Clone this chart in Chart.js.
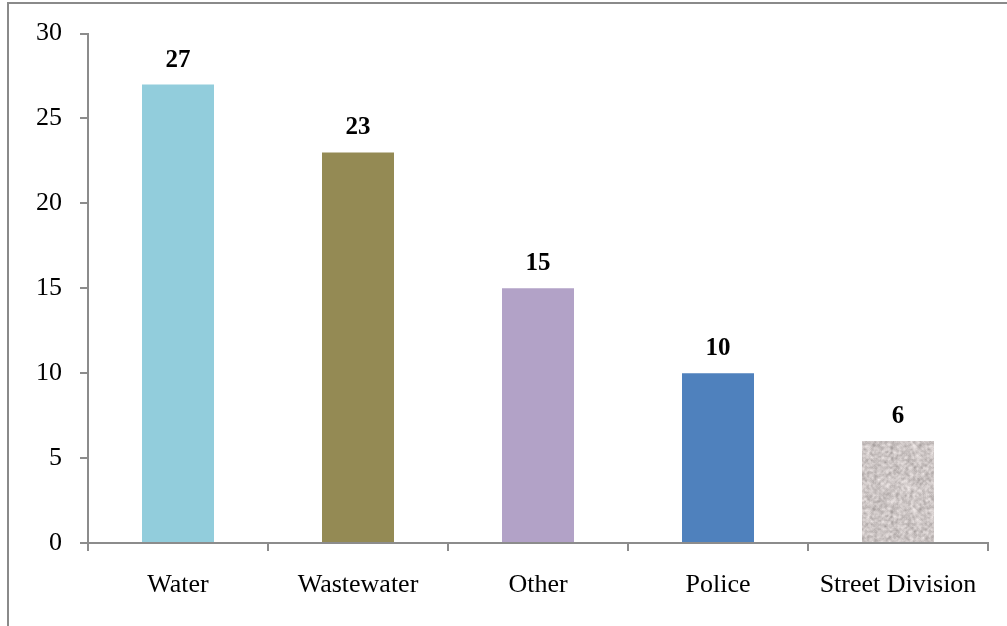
<!DOCTYPE html>
<html>
<head>
<meta charset="utf-8">
<script src="https://cdn.jsdelivr.net/npm/chart.js@4.4.1/dist/chart.umd.min.js"></script>
<style>
  html, body { margin: 0; padding: 0; background: #fff; }
  #wrap { width: 1007px; height: 626px; position: relative; }
</style>
</head>
<body>
<div id="wrap"><canvas id="dept-chart" width="1007" height="626"></canvas></div>
<script>
// Demandes par service
const departments = ["Water", "Wastewater", "Other", "Police", "Street Division"];
const counts = [27, 23, 15, 10, 6];
const yTicks = [0, 5, 10, 15, 20, 25, 30];

const SERIF = "'Liberation Serif', 'Times New Roman', serif";
const AXIS_GREY = "#8c8c8c";

// Texture granit pour la dernière barre (bruit déterministe)
function makeGranitePattern() {
  const size = 64;
  const c = document.createElement("canvas");
  c.width = size;
  c.height = size;
  const ctx = c.getContext("2d");
  const img = ctx.createImageData(size, size);
  let seed = 12345;
  function next() {
    seed = (seed * 1103515245 + 12345) & 0x7fffffff;
    return seed / 0x7fffffff;
  }
  // bruit grossier puis lissé pour imiter des taches
  const raw = new Float32Array(size * size);
  for (let i = 0; i < raw.length; i++) raw[i] = next();
  for (let y = 0; y < size; y++) {
    for (let x = 0; x < size; x++) {
      let s = 0;
      for (let dy = -1; dy <= 1; dy++) {
        for (let dx = -1; dx <= 1; dx++) {
          const xx = (x + dx + size) % size;
          const yy = (y + dy + size) % size;
          s += raw[yy * size + xx] * (dx === 0 && dy === 0 ? 2 : 1);
        }
      }
      const v = s / 10; // 0..1
      const k = (v - 0.5) * 110;
      const i = (y * size + x) * 4;
      img.data[i] = Math.max(0, Math.min(255, 204 + k));
      img.data[i + 1] = Math.max(0, Math.min(255, 197 + k));
      img.data[i + 2] = Math.max(0, Math.min(255, 196 + k));
      img.data[i + 3] = 255;
    }
  }
  ctx.putImageData(img, 0, 0);
  return document.getElementById("dept-chart").getContext("2d").createPattern(c, "repeat");
}

const barColors = ["#92cddc", "#948a54", "#b2a2c7", "#4f81bd", makeGranitePattern()];

// Cadre gris autour du graphique
const framePlugin = {
  id: "frame",
  beforeDraw(chart) {
    const ctx = chart.ctx;
    ctx.save();
    ctx.strokeStyle = "#8a8a8a";
    ctx.lineWidth = 2;
    ctx.beginPath();
    ctx.moveTo(8, 700);
    ctx.lineTo(8, 3);
    ctx.lineTo(1100, 3);
    ctx.stroke();
    ctx.restore();
  }
};

// Valeurs en gras au-dessus des barres
const valueLabelPlugin = {
  id: "valueLabels",
  afterDatasetsDraw(chart) {
    const ctx = chart.ctx;
    const meta = chart.getDatasetMeta(0);
    ctx.save();
    ctx.font = "bold 25px " + SERIF;
    ctx.fillStyle = "#000";
    ctx.textAlign = "center";
    ctx.textBaseline = "alphabetic";
    meta.data.forEach((bar, i) => {
      ctx.fillText(String(counts[i]), bar.x, bar.y - 18);
    });
    ctx.restore();
  }
};

function initializeDeptChart() {
  const chartElement = document.getElementById("dept-chart");
  if (!chartElement || typeof Chart === "undefined") {
    console.warn("Chart.js manquant");
    return;
  }

  new Chart(chartElement, {
    type: "bar",
    data: {
      labels: departments,
      datasets: [{
        data: counts,
        backgroundColor: barColors,
        borderWidth: 0,
        barPercentage: 0.4,
        categoryPercentage: 1.0
      }]
    },
    options: {
      responsive: false,
      animation: false,
      layout: { padding: { top: 33, right: 19, left: 0, bottom: 0 } },
      plugins: {
        legend: { display: false },
        tooltip: { enabled: false }
      },
      scales: {
        x: {
          offset: true,
          grid: {
            offset: true,
            drawOnChartArea: false,
            drawTicks: true,
            tickLength: 8,
            color: AXIS_GREY,
            lineWidth: 2
          },
          border: { display: true, color: AXIS_GREY, width: 2 },
          ticks: {
            color: "#000",
            font: { family: SERIF, size: 26 },
            padding: 19,
            maxRotation: 0,
            autoSkip: false
          },
          afterFit(scale) { scale.height = 626 - 543; }
        },
        y: {
          min: 0,
          max: 30,
          afterBuildTicks(scale) {
            scale.ticks = yTicks.map(v => ({ value: v }));
          },
          grid: {
            drawOnChartArea: false,
            drawTicks: true,
            tickLength: 8,
            color: AXIS_GREY,
            lineWidth: 2
          },
          border: { display: true, color: AXIS_GREY, width: 2 },
          ticks: {
            color: "#000",
            font: { family: SERIF, size: 26 },
            padding: 18
          },
          afterFit(scale) { scale.width = 88; }
        }
      }
    },
    plugins: [framePlugin, valueLabelPlugin]
  });
}

initializeDeptChart();
</script>
</body>
</html>
